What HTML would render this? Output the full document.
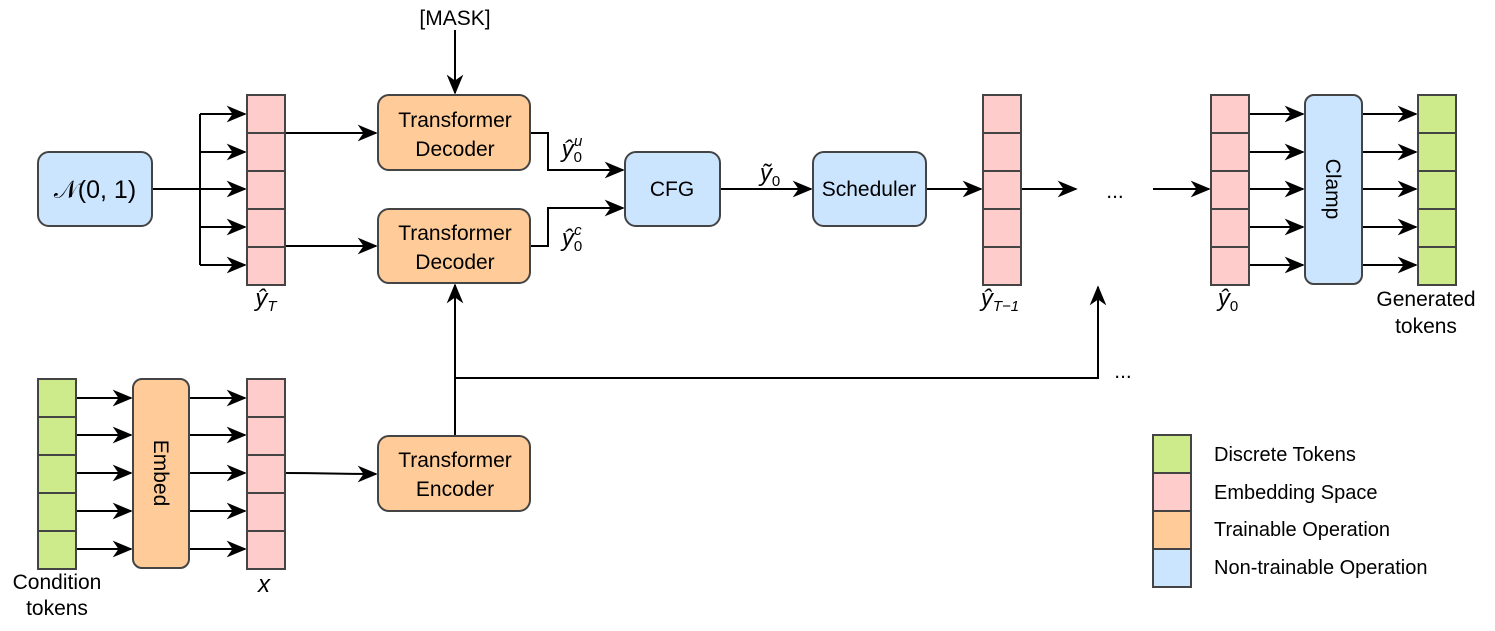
<!DOCTYPE html>
<html><head><meta charset="utf-8"><style>
body{margin:0;background:#fff}
svg{display:block}
text{font-family:"Liberation Sans",sans-serif;fill:#000}
.m{font-family:"Liberation Serif",serif;font-style:italic}
</style></head><body>
<svg width="1495" height="631" viewBox="0 0 1495 631">
<defs>
<marker id="b" viewBox="0 0 12 12" markerWidth="20" markerHeight="20" refX="11" refY="6" orient="auto" markerUnits="userSpaceOnUse"><path d="M0,1 L12,6 L0,11 L3.5,6 z" fill="#000"/></marker>
</defs>
<g stroke="#000" stroke-width="2" fill="none" marker-end="url(#b)">
<path d="M152,189 H245"/>
<path d="M200,114 H245"/><path d="M200,152 H245"/><path d="M200,227 H245"/><path d="M200,265 H245"/>
<path d="M285,133 H376"/><path d="M285,246 H376"/>
<path d="M530,133 H548 V170 H623"/><path d="M530,246 H548 V208 H623"/>
<path d="M720,189 H811"/><path d="M926,189 H981"/><path d="M1021,189 H1076"/><path d="M1153,189 H1209"/>
<path d="M455,30 V93"/>
<path d="M455,436 V285"/>
<path d="M455,378 H1098 V287"/>
<path d="M285,473 C330,473 330,474 376,474"/>
<path d="M1249,114 H1303"/><path d="M1249,152 H1303"/><path d="M1249,189 H1303"/><path d="M1249,227 H1303"/><path d="M1249,265 H1303"/>
<path d="M1362,114 H1416"/><path d="M1362,152 H1416"/><path d="M1362,189 H1416"/><path d="M1362,227 H1416"/><path d="M1362,265 H1416"/>
<path d="M76,398 H131"/><path d="M76,435 H131"/><path d="M76,473 H131"/><path d="M76,511 H131"/><path d="M76,549 H131"/>
<path d="M189,398 H245"/><path d="M189,435 H245"/><path d="M189,473 H245"/><path d="M189,511 H245"/><path d="M189,549 H245"/>
</g>
<path d="M200,114 V265" stroke="#000" stroke-width="2"/>
<g stroke="#444" stroke-width="2">
<g fill="#ffcccc">
<rect x="247" y="95" width="38" height="38"/><rect x="247" y="133" width="38" height="38"/><rect x="247" y="171" width="38" height="38"/><rect x="247" y="209" width="38" height="38"/><rect x="247" y="247" width="38" height="38"/>
<rect x="983" y="95" width="38" height="38"/><rect x="983" y="133" width="38" height="38"/><rect x="983" y="171" width="38" height="38"/><rect x="983" y="209" width="38" height="38"/><rect x="983" y="247" width="38" height="38"/>
<rect x="1211" y="95" width="38" height="38"/><rect x="1211" y="133" width="38" height="38"/><rect x="1211" y="171" width="38" height="38"/><rect x="1211" y="209" width="38" height="38"/><rect x="1211" y="247" width="38" height="38"/>
<rect x="247" y="379" width="38" height="38"/><rect x="247" y="417" width="38" height="38"/><rect x="247" y="455" width="38" height="38"/><rect x="247" y="493" width="38" height="38"/><rect x="247" y="531" width="38" height="38"/>
<rect x="1153" y="473" width="38" height="38"/>
</g>
<g fill="#cdeb8b">
<rect x="1418" y="95" width="38" height="38"/><rect x="1418" y="133" width="38" height="38"/><rect x="1418" y="171" width="38" height="38"/><rect x="1418" y="209" width="38" height="38"/><rect x="1418" y="247" width="38" height="38"/>
<rect x="38" y="379" width="38" height="38"/><rect x="38" y="417" width="38" height="38"/><rect x="38" y="455" width="38" height="38"/><rect x="38" y="493" width="38" height="38"/><rect x="38" y="531" width="38" height="38"/>
<rect x="1153" y="435" width="38" height="38"/>
</g>
<g fill="#cce5ff">
<rect x="38" y="152" width="114" height="74" rx="11"/>
<rect x="625" y="152" width="95" height="74" rx="11"/>
<rect x="813" y="152" width="113" height="74" rx="11"/>
<rect x="1305" y="95" width="57" height="189" rx="9"/>
<rect x="1153" y="549" width="38" height="38"/>
</g>
<g fill="#ffcc99">
<rect x="378" y="95" width="152" height="75" rx="11"/>
<rect x="378" y="209" width="152" height="74" rx="11"/>
<rect x="378" y="436" width="152" height="75" rx="11"/>
<rect x="133" y="379" width="56" height="189" rx="9"/>
<rect x="1153" y="511" width="38" height="38"/>
</g>
</g>
<g font-size="21" text-anchor="middle">
<text x="455" y="25">[MASK]</text>
<text x="455" y="127">Transformer</text><text x="455" y="156">Decoder</text>
<text x="455" y="240">Transformer</text><text x="455" y="269">Decoder</text>
<text x="455" y="467">Transformer</text><text x="455" y="496">Encoder</text>
<text x="672" y="196">CFG</text>
<text x="869" y="196">Scheduler</text>
<text x="1115" y="198">...</text>
<text x="1123" y="378">...</text>
<text x="1426" y="306">Generated</text><text x="1426" y="333">tokens</text>
<text x="57" y="589">Condition</text><text x="57" y="615">tokens</text>
<text transform="translate(154,473) rotate(90)">Embed</text>
<text transform="translate(1326,189) rotate(90)">Clamp</text>
</g>
<g font-size="20">
<text x="1214" y="461">Discrete Tokens</text>
<text x="1214" y="499">Embedding Space</text>
<text x="1214" y="536">Trainable Operation</text>
<text x="1214" y="574">Non-trainable Operation</text>
</g>
<g class="m" font-size="24" text-anchor="middle">
<text x="95" y="198" style="font-style:normal" font-size="25">𝒩(0, 1)</text>
<text x="266" y="306">ŷ<tspan font-size="15" dy="5">T</tspan></text>
<text x="1000" y="306">ŷ<tspan font-size="15" dy="5">T−1</tspan></text>
<text x="1228" y="306">ŷ<tspan font-size="15" dy="5" style="font-style:normal">0</tspan></text>
<text x="264" y="592">x</text>
<text x="572" y="157">ŷ<tspan font-size="15" dy="5" style="font-style:normal">0</tspan><tspan font-size="15" dx="-8" dy="-16">u</tspan></text>
<text x="572" y="246">ŷ<tspan font-size="15" dy="5" style="font-style:normal">0</tspan><tspan font-size="15" dx="-8" dy="-16">c</tspan></text>
<text x="770" y="181">ỹ<tspan font-size="15" dy="5" style="font-style:normal">0</tspan></text>
</g>
</svg>
</body></html>
